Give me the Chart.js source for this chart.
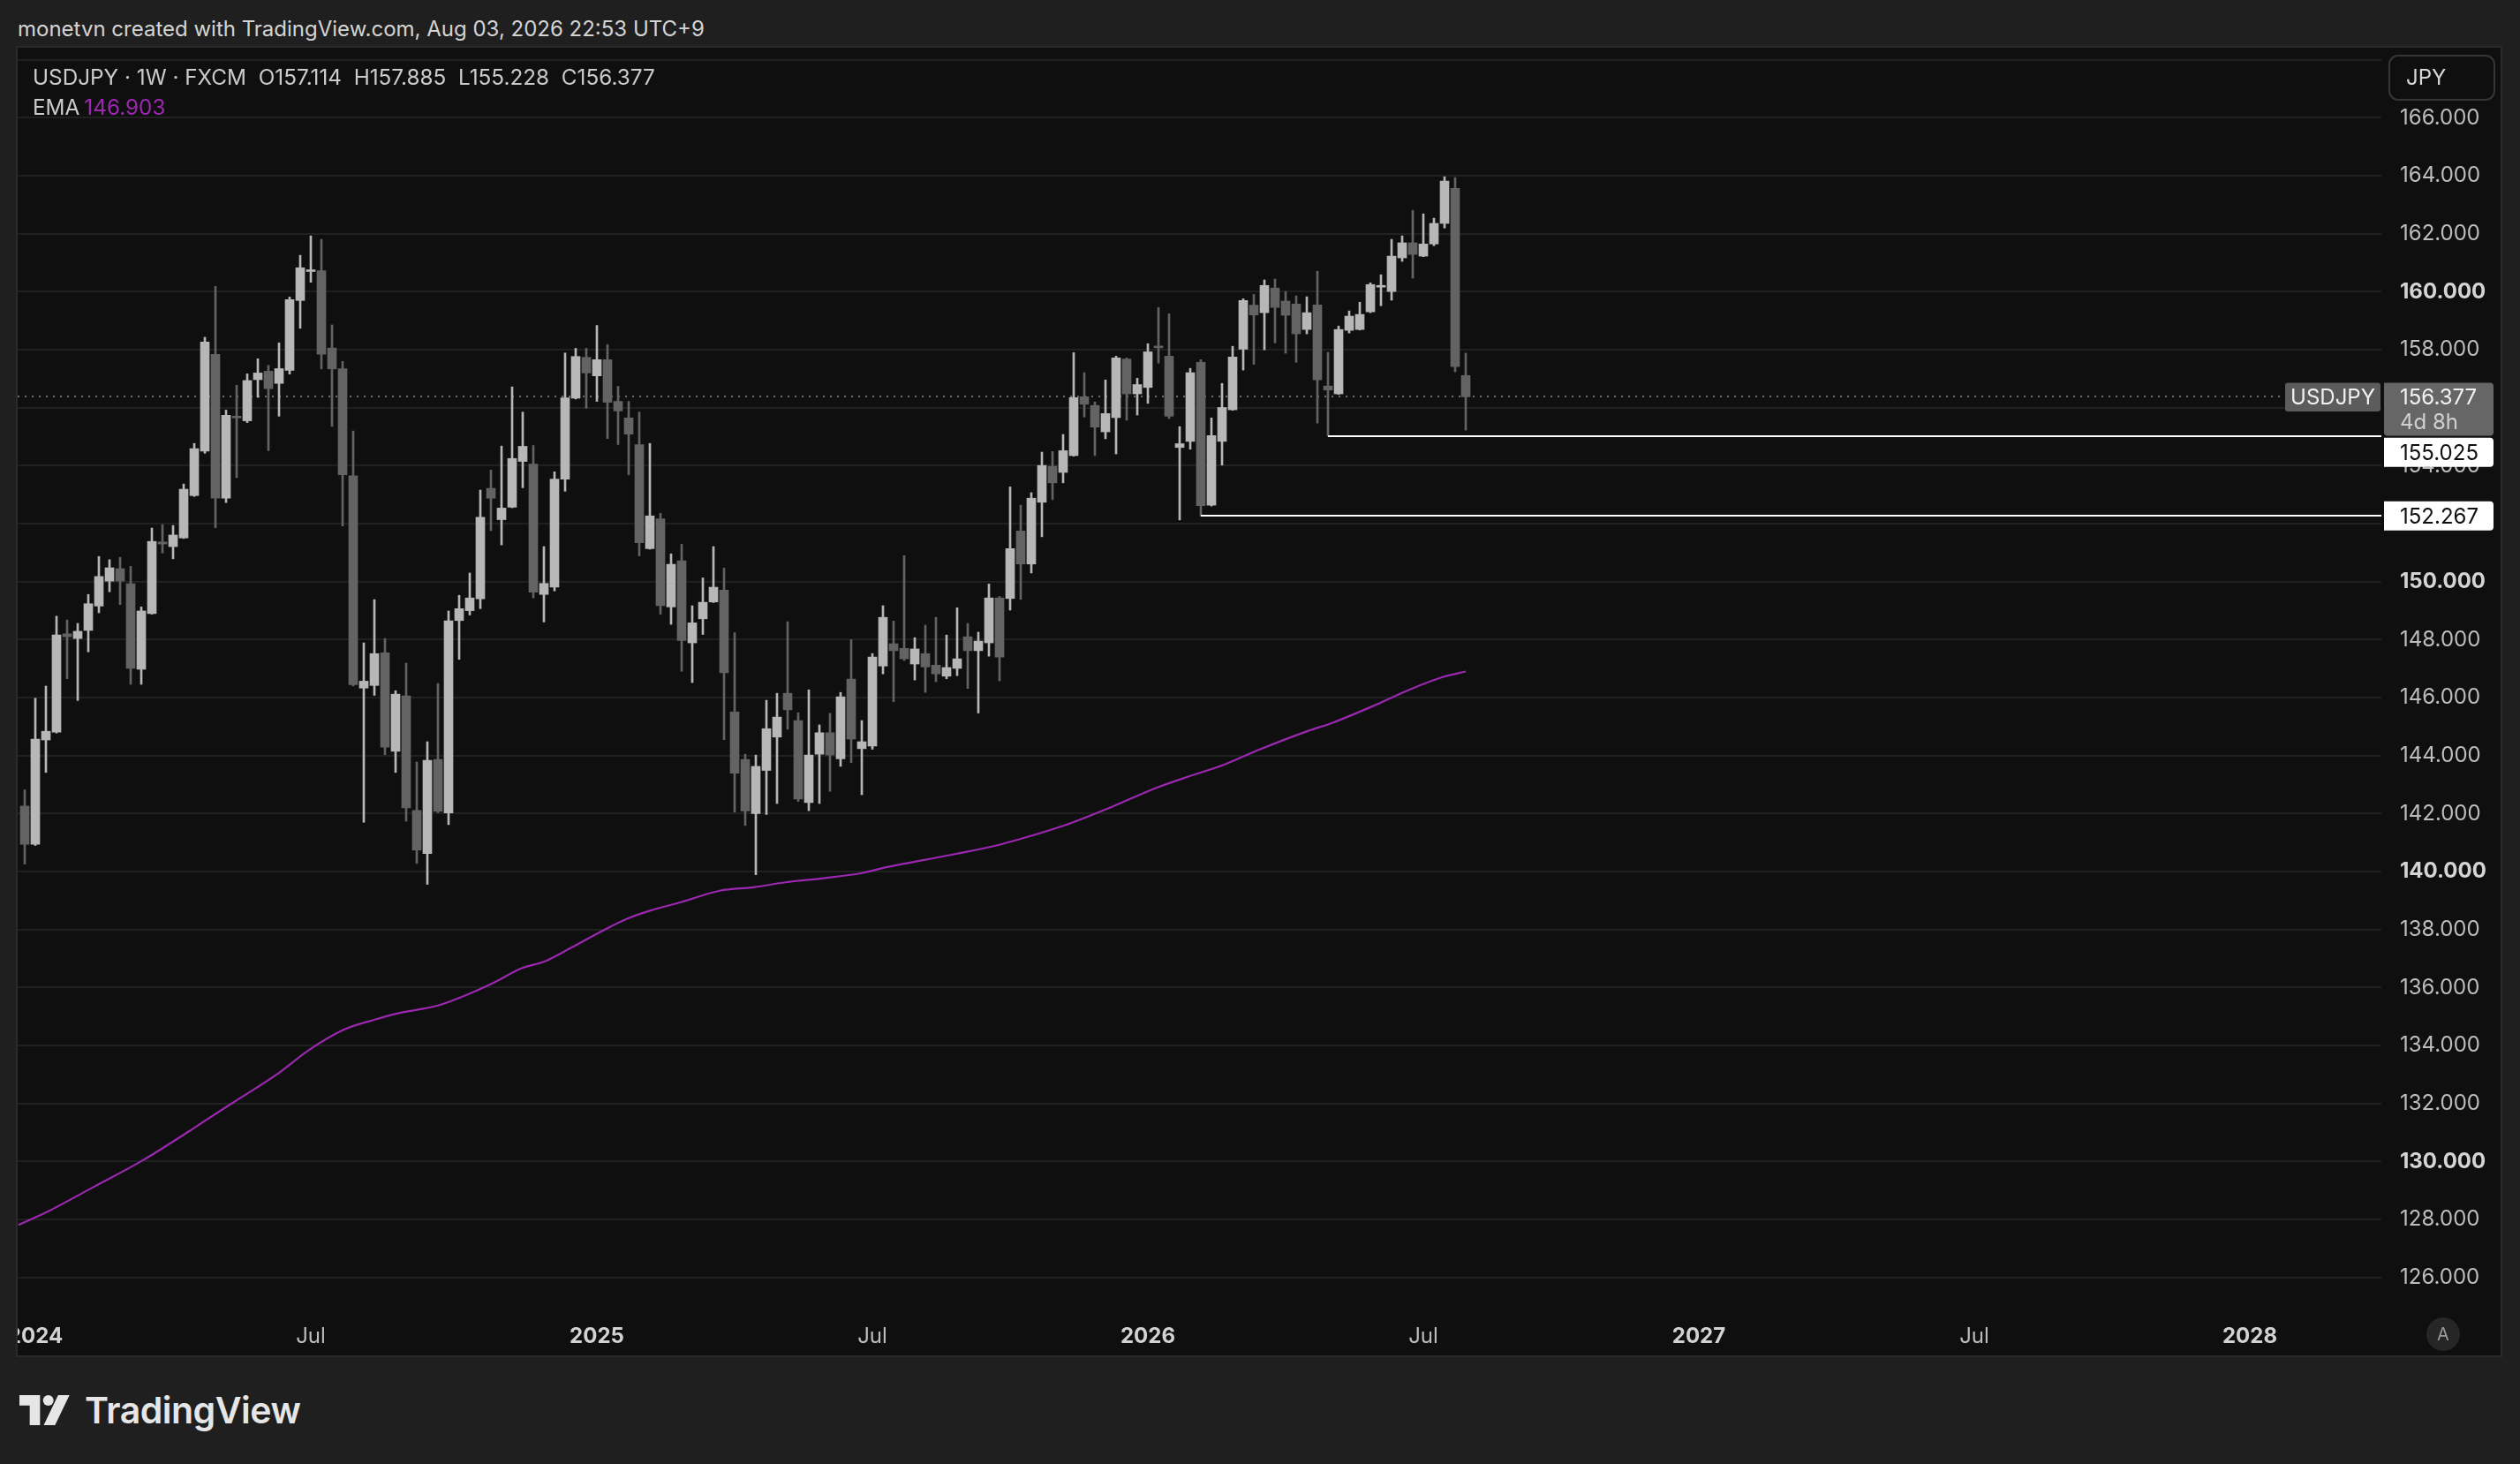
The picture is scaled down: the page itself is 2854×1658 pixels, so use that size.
<!DOCTYPE html>
<html>
<head>
<meta charset="utf-8">
<script src="https://cdn.jsdelivr.net/npm/chart.js@4.4.1/dist/chart.umd.min.js"></script>
<style>
  html, body { margin:0; padding:0; width:2854px; height:1658px; overflow:hidden; background:#1f1f1f;
    font-family: Inter, "Noto Sans", "DejaVu Sans", sans-serif; }
  #title { position:absolute; left:20px; top:18px; font-size:24px; color:#d4d4d4; white-space:nowrap; }
  #frame { position:absolute; left:18px; top:52px; width:2812px; height:1481px; border:2px solid #2a2a2a; background:#0f0f0f; }
  #c { position:absolute; left:0; top:0; }
  #legend { position:absolute; left:17px; top:16px; font-size:24.3px; line-height:34px; color:#cbcbcb; white-space:pre; }
  #legend .ema { color:#9c27b0; margin-left:5px; }
  #logo { position:absolute; left:22px; top:1572px; height:50px; display:flex; align-items:center; color:#e6e6e6;
    font-size:41px; font-weight:600; letter-spacing:-0.5px; }
  #logo svg { margin-right:14px; }
</style>
</head>
<body>
<div id="title">monetvn created with TradingView.com, Aug 03, 2026 22:53 UTC+9</div>
<div id="frame">
  <canvas id="c" width="2812" height="1481"></canvas>
  <div id="legend"></div>
</div>
<div id="logo">
  <svg width="60" height="34" viewBox="0 0 36 20.4">
    <path d="M0 0h14v20.4H7V7H0z" fill="#e6e6e6"/>
    <circle cx="19.6" cy="3.6" r="3.6" fill="#e6e6e6"/>
    <path d="M16.5 20.4L26.3 0H34L24.2 20.4z" fill="#e6e6e6"/>
  </svg>
  <span>TradingView</span>
</div>
<script>
// ---- data (weekly USDJPY, first bar = week of 2023-12-25) ----
const firstWeek = '2023-12-25';
const open = [142.26,140.94,144.54,144.81,148.20,148.04,148.32,149.16,150.02,150.45,
  149.93,146.98,148.90,151.37,151.21,151.51,152.97,154.50,157.84,152.88,
  155.70,155.55,156.97,157.26,156.84,157.29,159.70,160.70,160.73,158.06,
  157.35,153.65,146.33,146.42,147.55,144.15,146.06,142.11,140.62,143.87,
  142.02,148.66,149.00,149.41,153.22,152.14,152.57,154.15,154.06,149.56,
  149.81,153.54,156.33,157.74,157.10,157.66,156.22,155.65,154.73,151.14,
  152.17,149.13,150.72,147.89,148.72,149.30,149.71,145.51,143.87,142.00,
  143.49,144.64,146.15,145.21,142.38,144.05,144.79,143.89,146.64,144.24,
  144.33,147.09,147.86,147.70,147.16,147.52,147.12,146.74,147.01,148.10,
  147.62,147.89,149.44,149.42,151.75,150.61,152.74,153.98,153.77,154.35,
  156.38,156.08,155.17,155.66,157.68,156.48,156.70,158.12,157.78,154.63,
  154.84,157.57,152.64,154.84,155.93,158.02,159.54,159.28,160.13,159.68,
  159.58,158.70,159.55,156.75,156.48,158.67,158.70,159.31,160.16,160.01,
  161.17,161.69,161.23,161.65,162.36,163.57,157.114];
const high = [142.82,145.98,146.40,148.81,148.68,148.56,149.56,150.87,150.76,150.84,
  150.53,149.13,151.85,151.97,151.94,153.37,154.77,158.43,160.19,155.92,
  156.78,157.17,157.69,157.46,158.24,159.82,161.26,161.93,161.81,158.86,
  157.60,155.20,147.89,149.38,148.04,146.24,147.19,143.78,144.48,146.49,
  148.99,149.53,150.30,153.16,153.85,154.68,156.72,155.85,154.70,151.21,
  153.79,157.89,158.05,158.05,158.84,158.18,156.74,156.22,155.85,154.77,
  152.36,150.96,151.29,149.17,150.13,151.21,150.47,148.24,144.05,144.02,
  145.91,146.15,148.62,145.48,146.27,145.06,145.46,146.18,148.00,145.21,
  147.52,149.17,148.64,150.90,148.07,148.50,148.77,148.16,149.10,148.56,
  148.26,149.92,149.49,153.27,152.64,153.07,154.47,154.49,155.08,157.90,
  157.21,156.20,156.96,157.78,157.72,157.02,158.21,159.46,159.24,155.35,
  157.36,157.66,155.65,156.84,158.12,159.76,159.91,160.41,160.44,160.01,
  159.86,159.83,160.71,157.91,158.82,159.34,159.64,160.31,160.59,161.81,
  161.93,162.81,162.69,162.54,163.97,163.94,157.885];
const low = [140.26,140.90,143.42,144.78,146.65,145.90,147.58,148.93,149.65,149.21,
  146.46,146.46,148.88,150.99,150.79,151.49,152.94,154.43,151.86,152.73,
  153.59,155.49,156.36,154.52,155.71,157.16,158.74,160.33,157.34,155.36,
  151.92,146.40,141.70,146.08,144.03,143.42,141.74,140.28,139.56,142.03,
  141.62,147.32,148.85,149.07,151.76,151.27,152.55,153.24,149.44,148.61,
  149.68,153.12,156.30,155.98,156.22,154.94,154.73,153.69,150.89,151.12,
  148.88,148.53,146.91,146.52,148.18,149.28,144.55,142.05,141.59,139.89,
  141.97,142.35,144.91,142.42,142.10,142.35,142.77,143.63,143.76,142.65,
  144.22,146.82,145.86,147.28,146.61,146.18,146.55,146.65,146.76,146.32,
  145.47,147.43,146.58,149.02,149.39,150.30,151.55,152.83,153.41,154.33,
  155.68,154.35,154.93,154.41,155.57,155.75,156.15,157.54,155.63,152.13,
  154.57,152.267,152.61,154.02,155.91,157.30,157.50,158.00,158.24,157.88,
  157.57,158.55,155.47,155.025,156.46,158.58,158.68,159.28,159.52,159.71,
  161.05,160.47,161.21,161.59,162.20,157.24,155.228];
const close = [140.94,144.57,144.84,148.16,148.10,148.29,149.24,150.18,150.48,150.02,
  147.01,148.99,151.39,151.30,151.61,153.19,154.59,158.27,152.88,155.74,
  155.65,156.94,157.20,156.66,157.35,159.73,160.83,160.75,157.85,157.34,
  153.69,146.45,146.57,147.52,144.29,146.12,142.20,140.74,143.84,142.08,
  148.65,149.07,149.44,152.22,152.88,152.54,154.25,154.67,149.64,149.94,
  153.54,156.34,157.77,157.20,157.66,156.19,155.89,155.09,151.34,152.27,
  149.17,150.60,147.97,148.58,149.29,149.81,146.86,143.39,142.09,143.63,
  144.93,145.33,145.58,142.50,144.02,144.79,144.02,146.03,144.57,144.48,
  147.40,148.77,147.62,147.34,147.68,147.06,146.82,147.04,147.34,147.62,
  147.95,149.44,147.40,151.14,150.61,152.88,154.01,153.41,154.52,156.35,
  156.12,155.33,155.80,157.72,156.48,156.80,157.93,158.07,155.71,154.76,
  157.21,152.62,155.04,156.01,157.75,159.70,159.20,160.22,159.46,159.19,
  158.55,159.28,156.96,156.61,158.70,159.16,159.22,160.25,160.22,161.23,
  161.69,161.29,161.65,162.36,163.82,157.42,156.377];
// EMA: position (week index) and value
const emaIdx = [-0.6,2.1,6.6,11.1,15.5,17.0,20.0,23.9,26.8,30.0,33.1,35.2,37.0,39.0,42.0,44.3,46.8,49.2,51.6,54.6,
  56.9,59.0,62.0,65.6,68.8,71.8,75.4,79.0,81.3,84.9,88.0,91.8,94.0,98.2,102.0,106.8,110.0,113.2,116.4,121.1,
  123.4,127.5,130.7,133.9,136.0];
const emaVal = [127.81,128.26,129.14,130.03,131.04,131.40,132.11,133.03,133.84,134.53,134.90,135.11,135.23,135.38,135.79,136.17,136.65,136.92,137.38,137.97,
  138.38,138.65,138.95,139.34,139.46,139.63,139.77,139.95,140.15,140.40,140.62,140.91,141.13,141.60,142.14,142.89,143.30,143.69,144.19,144.85,
  145.13,145.75,146.28,146.72,146.903];
// time axis ticks (week index) and labels
const tickIndex = [1,27,54,80,106,132,158,184,210];
const tickText = ['2024','Jul','2025','Jul','2026','Jul','2027','Jul','2028'];
// price axis ticks
const priceTicks = [126,128,130,132,134,136,138,140,142,144,146,148,150,152,154,156,158,160,162,164,166,168];
// horizontal rays (drawn levels) and the week where each starts
const rayLevel = [155.025, 152.267];
const rayStart = [123, 111];
const countdown = '4d 8h';

// ---- chart ----
const UP = '#b7b7b7', DOWN = '#636363';
const FONT = 'Inter, "Noto Sans", "DejaVu Sans", sans-serif';
const n = open.length;
const last = n - 1;
const bodies = [], wicks = [], cols = [];
for (let i = 0; i < n; i++) {
  bodies.push({ x: i, y: [open[i], close[i]] });
  wicks.push({ x: i, y: [low[i], high[i]] });
  cols.push(close[i] >= open[i] ? UP : DOWN);
}
const ema = emaIdx.map((x, i) => ({ x, y: emaVal[i] }));
const lastPrice = close[last];

document.getElementById('legend').innerHTML =
  'USDJPY · 1W · FXCM  O' + open[last].toFixed(3) + '  H' + high[last].toFixed(3) +
  '  L' + low[last].toFixed(3) + '  C' + close[last].toFixed(3) +
  '\nEMA<span class="ema">' + emaVal[emaVal.length - 1].toFixed(3) + '</span>';

function rrect(ctx, x, y, w, h, r) { ctx.beginPath(); ctx.roundRect(x, y, w, h, r); ctx.fill(); }
function noPad(s) { s.paddingLeft = 0; s.paddingRight = 0; s.paddingTop = 0; s.paddingBottom = 0; }

const overlay = {
  id: 'overlay',
  beforeDatasetsDraw(chart) {
    const { ctx, chartArea: a, scales: { y } } = chart;
    const py = Math.round(y.getPixelForValue(lastPrice));
    ctx.save();
    ctx.strokeStyle = '#6c6c6c'; ctx.lineWidth = 2; ctx.setLineDash([2, 6]);
    ctx.beginPath(); ctx.moveTo(a.left, py); ctx.lineTo(a.right, py); ctx.stroke();
    ctx.restore();
  },
  afterDatasetsDraw(chart) {
    const { ctx, chartArea: a, scales: { x, y } } = chart;
    ctx.save();
    ctx.strokeStyle = '#ffffff'; ctx.lineWidth = 2;
    rayLevel.forEach((lv, i) => {
      const py = Math.round(y.getPixelForValue(lv));
      const px = x.getPixelForValue(rayStart[i]);
      ctx.beginPath(); ctx.moveTo(px, py); ctx.lineTo(a.right, py); ctx.stroke();
    });
    ctx.restore();
  },
  afterDraw(chart) {
    const { ctx, chartArea: a, scales: { y } } = chart;
    ctx.save();
    ctx.textBaseline = 'middle';
    const bx = a.right + 3, bw = 124, tx = a.right + 21;
    // ray labels
    const offs = [18.5, 0];
    rayLevel.forEach((lv, i) => {
      const py = y.getPixelForValue(lv) + offs[i];
      ctx.fillStyle = '#ffffff';
      rrect(ctx, bx, py - 16.5, bw, 33, [0, 4, 4, 0]);
      ctx.fillStyle = '#0f0f0f'; ctx.font = '24px ' + FONT; ctx.textAlign = 'left';
      ctx.fillText(lv.toFixed(3), tx, py + 1);
    });
    // current price
    const py = y.getPixelForValue(lastPrice);
    ctx.fillStyle = '#5c5c5c';
    rrect(ctx, a.right - 109, py - 16, 108, 32.5, 3);
    ctx.fillStyle = '#f0f0f0'; ctx.font = '24px ' + FONT; ctx.textAlign = 'center';
    ctx.fillText('USDJPY', a.right - 55, py + 1);
    ctx.fillStyle = '#666666';
    rrect(ctx, bx, py - 16, bw, 60, [0, 4, 4, 4]);
    ctx.textAlign = 'left';
    ctx.fillStyle = '#f2f2f2'; ctx.fillText(lastPrice.toFixed(3), tx, py + 1);
    ctx.fillStyle = '#d0d0d0'; ctx.fillText(countdown, tx, py + 29);
    // JPY button
    ctx.fillStyle = '#0f0f0f'; ctx.strokeStyle = '#363636'; ctx.lineWidth = 2;
    ctx.beginPath(); ctx.roundRect(a.right + 9, 9, 119, 50, 10); ctx.fill(); ctx.stroke();
    ctx.fillStyle = '#d6d6d6'; ctx.font = '24px ' + FONT; ctx.textAlign = 'left';
    ctx.fillText('JPY', a.right + 28, 35);
    // "A" auto-scale button
    ctx.fillStyle = '#262626';
    ctx.beginPath(); ctx.arc(a.right + 70, 1457, 19, 0, Math.PI * 2); ctx.fill();
    ctx.fillStyle = '#9a9a9a'; ctx.font = '20px ' + FONT; ctx.textAlign = 'center';
    ctx.fillText('A', a.right + 70, 1458);
    ctx.restore();
  }
};

new Chart(document.getElementById('c'), {
  type: 'bar',
  data: {
    datasets: [
      { type: 'line', data: ema, borderColor: '#9c27b0', borderWidth: 2.2, pointRadius: 0,
        cubicInterpolationMode: 'monotone', order: 3 },
      { data: wicks, backgroundColor: cols, barThickness: 2, grouped: false, order: 2 },
      { data: bodies, backgroundColor: cols, barThickness: 10, grouped: false, minBarLength: 2, order: 1 }
    ]
  },
  options: {
    responsive: false, devicePixelRatio: 1, animation: false,
    layout: { padding: 0, autoPadding: false },
    plugins: { legend: { display: false }, tooltip: { enabled: false } },
    scales: {
      x: {
        type: 'linear', min: -0.6667, max: 222.4167, offset: false,
        grid: { display: false, offset: false }, border: { display: false },
        afterBuildTicks: s => { s.ticks = tickIndex.map(v => ({ value: v })); },
        afterFit: s => { s.height = 55; noPad(s); },
        ticks: {
          autoSkip: false, maxRotation: 0, minRotation: 0, padding: 11,
          color: c => (tickText[c.index] === 'Jul' ? '#bdbdbd' : '#d2d2d2'),
          font: c => ({ family: FONT, size: 24, weight: tickText[c.index] === 'Jul' ? 'normal' : 'bold' }),
          callback: (v, i) => tickText[i]
        }
      },
      y: {
        position: 'right', min: 124.9857, max: 168.4215,
        grid: { color: '#202020', lineWidth: 2, drawTicks: false }, border: { display: false },
        afterBuildTicks: s => { s.ticks = priceTicks.map(v => ({ value: v })); },
        afterFit: s => { s.width = 135; noPad(s); },
        ticks: {
          padding: 21,
          color: c => (c.tick && c.tick.value % 10 === 0 ? '#d4d4d4' : '#bdbdbd'),
          font: c => ({ family: FONT, size: 24, weight: (c.tick && c.tick.value % 10 === 0) ? 'bold' : 'normal' }),
          callback: v => (v === 168 ? '' : v.toFixed(3))
        }
      }
    }
  },
  plugins: [overlay]
});
</script>
</body>
</html>
